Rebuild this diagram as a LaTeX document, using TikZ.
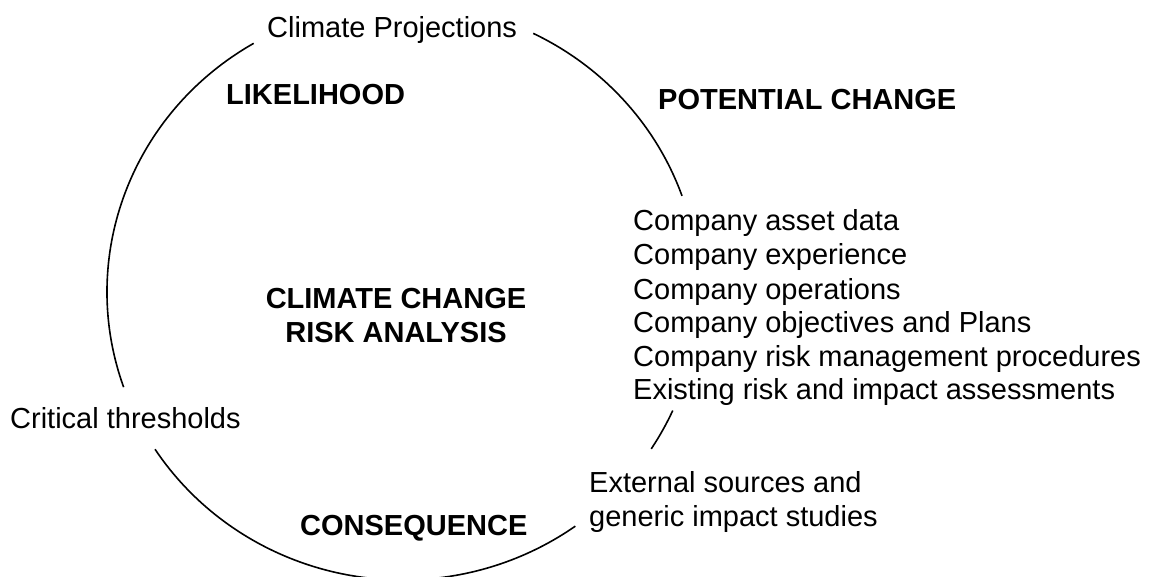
\documentclass[tikz,border=0pt]{standalone}
\usepackage{fontspec}
\setmainfont{Liberation Sans}
\usetikzlibrary{calc}
\begin{document}
\begin{tikzpicture}[x=1pt,y=1pt,
  lbl/.style={inner sep=0pt,anchor=base west,font=\fontsize{29}{34}\selectfont},
  head/.style={inner sep=0pt,anchor=base west,font=\fontsize{29}{34}\selectfont\bfseries},
  ring/.style={line width=1.6pt,black}]
\useasboundingbox (0,0) rectangle (1153,-577);
\clip (0,0) rectangle (1153,-577);
\coordinate (c) at (403,-292);
% ring arcs
\draw[ring] ($(c)+(19.5:296pt and 288pt)$) arc[start angle=19.5,end angle=63.9,x radius=296pt,y radius=288pt];
\draw[ring] ($(c)+(-33:296pt and 288pt)$) arc[start angle=-33,end angle=-24.3,x radius=296pt,y radius=288pt];
\draw[ring] ($(c)+(213.1:296pt and 288pt)$) arc[start angle=213.1,end angle=305.6,x radius=296pt,y radius=288pt];
\draw[ring] ($(c)+(120.3:296pt and 288pt)$) arc[start angle=120.3,end angle=199.3,x radius=296pt,y radius=288pt];
% labels
\node[lbl] (proj) at (267,-38) {Climate Projections};
\node[head] (like) at (226,-105) {LIKELIHOOD};
\node[head] (pot) at (658,-110) {POTENTIAL CHANGE};
\node[head,anchor=base] (cc1) at (396,-308) {CLIMATE CHANGE};
\node[head,anchor=base] (cc2) at (396,-342) {RISK ANALYSIS};
\node[lbl] (co1) at (633,-231) {Company asset data};
\node[lbl] (co2) at (633,-265) {Company experience};
\node[lbl] (co3) at (633,-299) {Company operations};
\node[lbl] (co4) at (633,-332) {Company objectives and Plans};
\node[lbl] (co5) at (633,-366) {Company risk management procedures};
\node[lbl] (co6) at (633,-399) {Existing risk and impact assessments};
\node[lbl] (crit) at (10,-428) {Critical thresholds};
\node[lbl] (ext1) at (589,-492) {External sources and};
\node[lbl] (ext2) at (589,-526) {generic impact studies};
\node[head] (cons) at (300,-535) {CONSEQUENCE};
\end{tikzpicture}
\end{document}
